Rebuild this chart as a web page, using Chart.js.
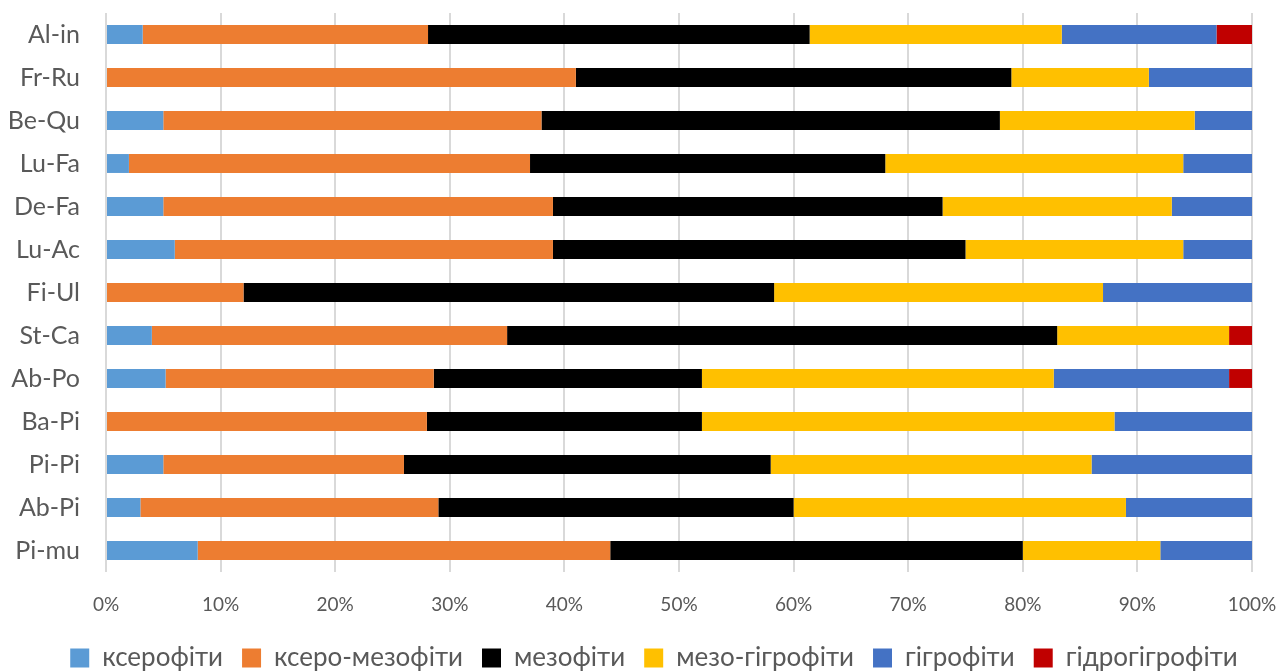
<!DOCTYPE html>
<html>
<head>
<meta charset="utf-8">
<script src="https://cdn.jsdelivr.net/npm/chart.js@4.4.1/dist/chart.umd.min.js"></script>
<style>
  html, body { margin: 0; padding: 0; background: #ffffff; }
  #wrap { width: 1282px; height: 671px; position: relative; }
</style>
</head>
<body>
<div id="wrap"><canvas id="chart"></canvas></div>
<script>
// Plant communities (top to bottom)
const communities = ['Al-in', 'Fr-Ru', 'Be-Qu', 'Lu-Fa', 'De-Fa', 'Lu-Ac', 'Fi-Ul', 'St-Ca', 'Ab-Po', 'Ba-Pi', 'Pi-Pi', 'Ab-Pi', 'Pi-mu'];

// Share of each ecological group, %
const xerophytes      = [3.2, 0, 5, 2, 5, 6, 0, 4, 5.2, 0, 5, 3, 8];
const xeroMesophytes  = [24.9, 41, 33, 35, 34, 33, 12, 31, 23.4, 28, 21, 26, 36];
const mesophytes      = [33.3, 38, 40, 31, 34, 36, 46.3, 48, 23.4, 24, 32, 31, 36];
const mesoHygrophytes = [22, 12, 17, 26, 20, 19, 28.7, 15, 30.7, 36, 28, 29, 12];
const hygrophytes     = [13.5, 9, 5, 6, 7, 6, 13, 0, 15.3, 12, 14, 11, 8];
const hydroHygrophytes = [3.1, 0, 0, 0, 0, 0, 0, 2, 2, 0, 0, 0, 0];

const groupNames = ['ксерофіти', 'ксеро-мезофіти', 'мезофіти', 'мезо-гігрофіти', 'гігрофіти', 'гідрогігрофіти'];
const groupColors = ['#5b9bd5', '#ed7d31', '#000000', '#ffc000', '#4472c4', '#c00000'];
const groupValues = [xerophytes, xeroMesophytes, mesophytes, mesoHygrophytes, hygrophytes, hydroHygrophytes];

const xTicks = [0, 10, 20, 30, 40, 50, 60, 70, 80, 90, 100];

const FONT = 'Lato, "Open Sans", sans-serif';
const TEXT = '#595959';

// Centre the legend row under the plot area rather than the whole canvas
const legendShift = {
  id: 'legendShift',
  afterLayout(chart) {
    const lg = chart.legend;
    if (!lg) return;
    const dx = ((chart.chartArea.left + chart.chartArea.right) / 2) - ((lg.left + lg.right) / 2) - 25;
    lg.left += dx;
    lg.right += dx;
  }
};

new Chart(document.getElementById('chart'), {
  type: 'bar',
  data: {
    labels: communities,
    datasets: groupValues.map((vals, i) => ({
      label: groupNames[i],
      data: vals,
      backgroundColor: groupColors[i],
      borderWidth: 0,
      categoryPercentage: 1.0,
      barPercentage: 0.44
    }))
  },
  plugins: [legendShift],
  options: {
    indexAxis: 'y',
    responsive: true,
    maintainAspectRatio: false,
    animation: false,
    layout: { padding: { top: 13, right: 30, left: 0, bottom: -10 } },
    scales: {
      x: {
        stacked: true,
        min: 0,
        max: 100,
        afterBuildTicks: (axis) => { axis.ticks = xTicks.map(v => ({ value: v })); },
        afterFit: (axis) => {
          axis.height = 54;
          axis.paddingLeft = 0;
          axis.paddingRight = 0;
        },
        ticks: {
          callback: (v) => v + '%',
          color: TEXT,
          font: { family: FONT, size: 19 },
          padding: 21,
          maxRotation: 0
        },
        grid: { color: '#d9d9d9', lineWidth: 2, drawTicks: false },
        border: { display: false }
      },
      y: {
        stacked: true,
        afterFit: (axis) => {
          axis.width = 106;
          axis.paddingTop = 0;
          axis.paddingBottom = 0;
        },
        ticks: {
          color: TEXT,
          font: { family: FONT, size: 25 },
          padding: 26
        },
        grid: { display: false, drawTicks: false },
        border: { display: false }
      }
    },
    plugins: {
      legend: {
        position: 'bottom',
        labels: {
          color: TEXT,
          font: { family: FONT, size: 26, lineHeight: 1 },
          boxWidth: 19,
          boxHeight: 19,
          padding: 19
        }
      },
      tooltip: { enabled: false }
    }
  }
});
</script>
</body>
</html>
